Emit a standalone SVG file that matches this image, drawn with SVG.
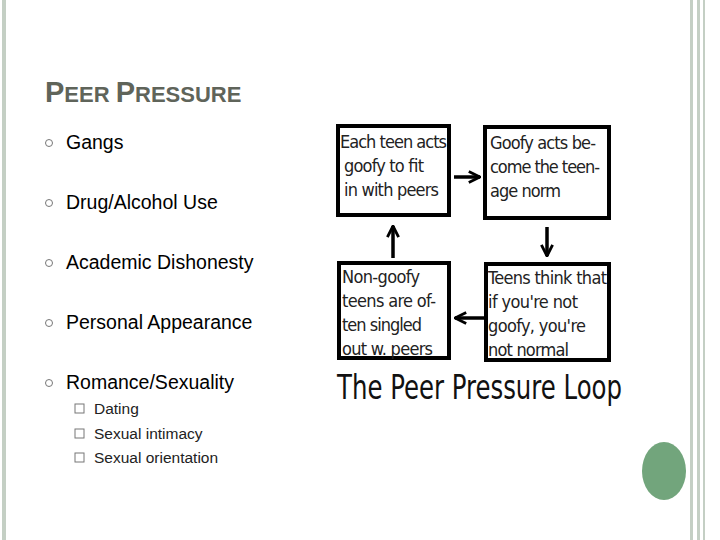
<svg xmlns="http://www.w3.org/2000/svg" width="720" height="540" viewBox="0 0 720 540">
<defs>
<style>
.b{font-family:"Liberation Sans",Arial,sans-serif;font-size:19.5px;fill:#000}
.s{font-family:"Liberation Sans",Arial,sans-serif;font-size:15.5px;fill:#222}
.t{font-family:"Liberation Sans",Arial,sans-serif;fill:#5f645a;font-weight:bold}
.bx{fill:#fff;stroke:#000;stroke-width:4}
.bt{font-family:"DejaVu Sans Condensed",sans-serif;font-size:18px;fill:#222}
.ar{stroke:#000;stroke-width:3.5;fill:none}
.bul{fill:none;stroke:#777;stroke-width:1}
</style>
<marker id="ah" viewBox="0 0 10 10" refX="9" refY="5" markerWidth="4" markerHeight="4" orient="auto"><path d="M1,1 L9,5 L1,9" fill="none" stroke="#000" stroke-width="2"/></marker>
</defs>
<rect width="720" height="540" fill="#fff"/>
<rect x="2" y="0" width="4" height="540" fill="#c4cfc4"/>
<rect x="690" y="0" width="3" height="540" fill="#c4cfc4"/>
<rect x="697" y="0" width="3" height="540" fill="#c4cfc4"/>
<rect x="703" y="0" width="2" height="540" fill="#c4cfc4"/>
<ellipse cx="664" cy="471" rx="22" ry="29" fill="#72a57c"/>
<text x="45" y="102" class="t"><tspan font-size="29">P</tspan><tspan font-size="22">EER </tspan><tspan font-size="29">P</tspan><tspan font-size="22">RESSURE</tspan></text>
<g>
<circle cx="49" cy="143" r="3.5" class="bul"/><text x="66" y="149" class="b">Gangs</text>
<circle cx="49" cy="203" r="3.5" class="bul"/><text x="66" y="209" class="b">Drug/Alcohol Use</text>
<circle cx="49" cy="263" r="3.5" class="bul"/><text x="66" y="269" class="b">Academic Dishonesty</text>
<circle cx="49" cy="323" r="3.5" class="bul"/><text x="66" y="329" class="b">Personal Appearance</text>
<circle cx="49" cy="383" r="3.5" class="bul"/><text x="66" y="389" class="b">Romance/Sexuality</text>
<rect x="75" y="404" width="9" height="9" class="bul"/><text x="94" y="414" class="s">Dating</text>
<rect x="75" y="429" width="9" height="9" class="bul"/><text x="94" y="439" class="s">Sexual intimacy</text>
<rect x="75" y="453" width="9" height="9" class="bul"/><text x="94" y="463" class="s">Sexual orientation</text>
</g>
<g id="n1"><rect x="338" y="126" width="111" height="89" class="bx"/><text class="bt"><tspan x="340" y="148" textLength="107">Each teen acts</tspan><tspan x="344" y="172" textLength="80">goofy to fit</tspan><tspan x="344" y="196" textLength="95">in with peers</tspan></text></g>
<g id="n2"><rect x="485" y="127" width="124" height="91" class="bx"/><text class="bt"><tspan x="490" y="149" textLength="106">Goofy acts be-</tspan><tspan x="490" y="173" textLength="110">come the teen-</tspan><tspan x="490" y="197" textLength="71">age norm</tspan></text></g>
<g id="n3"><rect x="339" y="263" width="110" height="95" class="bx"/><text class="bt"><tspan x="342" y="283" textLength="78">Non-goofy</tspan><tspan x="342" y="307" textLength="94">teens are of-</tspan><tspan x="342" y="331" textLength="80">ten singled</tspan><tspan x="342" y="355" textLength="91">out w. peers</tspan></text></g>
<g id="n4"><rect x="486" y="264" width="123" height="96" class="bx"/><text class="bt"><tspan x="488" y="284" textLength="119">Teens think that</tspan><tspan x="488" y="308" textLength="90">if you're not</tspan><tspan x="488" y="332" textLength="98">goofy, you're</tspan><tspan x="488" y="356" textLength="81">not normal</tspan></text></g>
<g id="connectors">
<line x1="454" y1="177" x2="480" y2="177" class="ar" marker-end="url(#ah)"/>
<line x1="547" y1="227" x2="547" y2="256" class="ar" marker-end="url(#ah)"/>
<line x1="484" y1="318" x2="455" y2="318" class="ar" marker-end="url(#ah)"/>
<line x1="393" y1="258" x2="393" y2="226" class="ar" marker-end="url(#ah)"/>
</g>
<text x="337" y="399" font-family="DejaVu Sans Condensed,sans-serif" font-size="34" fill="#111" textLength="285" lengthAdjust="spacingAndGlyphs">The Peer Pressure Loop</text>
</svg>
